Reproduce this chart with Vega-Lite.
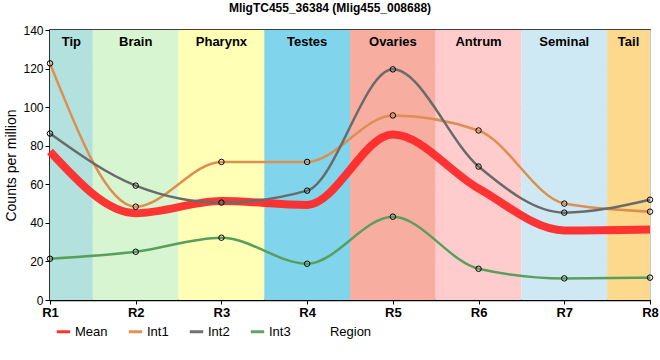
{
  "$schema": "https://vega.github.io/schema/vega-lite/v6.json",
  "width": 600,
  "height": 270,
  "autosize": {"type": "none"},
  "padding": {"left": 50, "top": 30, "right": 10, "bottom": 60},
  "background": "white",
  "title": {"text": "MligTC455_36384 (Mlig455_008688)", "fontSize": 12, "fontWeight": "bold", "font": "Liberation Sans", "offset": 9, "dx": -20, "color": "#000"},
  "config": {
    "view": {"stroke": "#000", "strokeWidth": 1.5},
    "font": "Liberation Sans"
  },
  "datasets": {
    "bands": [
      {"region": "Tip", "x0": 1, "x1": 1.5},
      {"region": "Brain", "x0": 1.5, "x1": 2.5},
      {"region": "Pharynx", "x0": 2.5, "x1": 3.5},
      {"region": "Testes", "x0": 3.5, "x1": 4.5},
      {"region": "Ovaries", "x0": 4.5, "x1": 5.5},
      {"region": "Antrum", "x0": 5.5, "x1": 6.5},
      {"region": "Seminal", "x0": 6.5, "x1": 7.5},
      {"region": "Tail", "x0": 7.5, "x1": 8}
    ],
    "series": [
      {"series": "Mean", "r": 1, "value": 77},
      {"series": "Mean", "r": 2, "value": 45},
      {"series": "Mean", "r": 3, "value": 51.3},
      {"series": "Mean", "r": 4, "value": 49.3},
      {"series": "Mean", "r": 5, "value": 85.8},
      {"series": "Mean", "r": 6, "value": 57.8},
      {"series": "Mean", "r": 7, "value": 36.1},
      {"series": "Mean", "r": 8, "value": 36.6},
      {"series": "Int1", "r": 1, "value": 122.7},
      {"series": "Int1", "r": 2, "value": 48.4},
      {"series": "Int1", "r": 3, "value": 71.6},
      {"series": "Int1", "r": 4, "value": 71.6},
      {"series": "Int1", "r": 5, "value": 95.7},
      {"series": "Int1", "r": 6, "value": 87.9},
      {"series": "Int1", "r": 7, "value": 50},
      {"series": "Int1", "r": 8, "value": 45.8},
      {"series": "Int2", "r": 1, "value": 86.3},
      {"series": "Int2", "r": 2, "value": 59.3},
      {"series": "Int2", "r": 3, "value": 50.5},
      {"series": "Int2", "r": 4, "value": 56.7},
      {"series": "Int2", "r": 5, "value": 119.6},
      {"series": "Int2", "r": 6, "value": 69.2},
      {"series": "Int2", "r": 7, "value": 45.3},
      {"series": "Int2", "r": 8, "value": 52},
      {"series": "Int3", "r": 1, "value": 21.4},
      {"series": "Int3", "r": 2, "value": 25},
      {"series": "Int3", "r": 3, "value": 32.3},
      {"series": "Int3", "r": 4, "value": 18.8},
      {"series": "Int3", "r": 5, "value": 43.2},
      {"series": "Int3", "r": 6, "value": 16.2},
      {"series": "Int3", "r": 7, "value": 11.2},
      {"series": "Int3", "r": 8, "value": 11.6}
    ]
  },
  "layer": [
    {
      "data": {"name": "bands"},
      "mark": {"type": "rect"},
      "encoding": {
        "x": {"field": "x0", "type": "quantitative", "scale": {"domain": [1, 8], "nice": false, "zero": false},
          "axis": {"values": [1,2,3,4,5,6,7,8], "labelExpr": "'R' + datum.value", "title": "Region", "grid": true, "gridColor": "#c8c8c8", "labelFontWeight": "bold", "labelFontSize": 13, "labelColor": "#000", "labelPadding": 2, "domainColor": "#000", "domainWidth": 1.5, "tickColor": "#000", "tickSize": 4, "titleFontWeight": "normal", "titleFontSize": 13, "titleColor": "#000", "titleY": 25, "labelFlush": false}},
        "x2": {"field": "x1"},
        "y": {"datum": 0, "type": "quantitative", "scale": {"domain": [0, 140], "nice": false},
          "axis": {"tickCount": 7, "title": "Counts per million", "grid": true, "gridColor": "#c8c8c8", "labelFontSize": 12, "labelColor": "#000", "domainColor": "#000", "domainWidth": 1.5, "tickColor": "#000", "tickSize": 5, "titleFontWeight": "normal", "titleFontSize": 14, "titleColor": "#000", "titlePadding": 4}},
        "y2": {"datum": 140},
        "fill": {"field": "region", "type": "nominal", "legend": null,
          "scale": {"domain": ["Tip","Brain","Pharynx","Testes","Ovaries","Antrum","Seminal","Tail"],
                    "range": ["#b3e1dd","#d7f5d0","#ffffb5","#80d5ec","#f7ad9f","#ffcccd","#cfe9f4","#fcd98c"]}}
      }
    },
    {
      "data": {"name": "bands"},
      "mark": {"type": "text", "fontWeight": "bold", "fontSize": 13, "baseline": "middle", "color": "#000"},
      "transform": [{"calculate": "(datum.x0 + datum.x1) / 2", "as": "xm"}],
      "encoding": {
        "x": {"field": "xm", "type": "quantitative"},
        "y": {"datum": 134, "type": "quantitative"},
        "text": {"field": "region"}
      }
    },
    {
      "data": {"name": "series"},
      "transform": [{"filter": "datum.series === 'Mean'"}],
      "mark": {"type": "line", "interpolate": "monotone", "strokeWidth": 8, "opacity": 0.95},
      "encoding": {
        "x": {"field": "r", "type": "quantitative"},
        "y": {"field": "value", "type": "quantitative"},
        "stroke": {"field": "series", "type": "nominal",
          "scale": {"domain": ["Mean","Int1","Int2","Int3"], "range": ["#ff2a2a","#dd8f4f","#6a6a6a","#5a9e5e"]},
          "legend": {"orient": "none", "legendX": 5, "legendY": 293, "direction": "horizontal", "title": null,
            "symbolType": "stroke", "symbolSize": 180, "symbolStrokeWidth": 3,
            "labelFontSize": 13, "columnPadding": 14, "symbolOffset": 0, "labelOffset": 3,
            "encode": {
              "labels": {"update": {"fill": {"scale": "stroke", "field": "value"}, "opacity": {"value": 0.85}}},
              "symbols": {"update": {"strokeWidth": {"signal": "datum.value === 'Mean' ? 7 : 3"}}}
            }}},
        "order": {"field": "r", "type": "quantitative"}
      }
    },
    {
      "data": {"name": "series"},
      "transform": [{"filter": "datum.series !== 'Mean'"}],
      "mark": {"type": "line", "interpolate": "monotone", "strokeWidth": 2.5},
      "encoding": {
        "x": {"field": "r", "type": "quantitative"},
        "y": {"field": "value", "type": "quantitative"},
        "stroke": {"field": "series", "type": "nominal"},
        "order": {"field": "r", "type": "quantitative"}
      }
    },
    {
      "data": {"name": "series"},
      "transform": [{"filter": "datum.series !== 'Mean'"}],
      "mark": {"type": "point", "filled": false, "stroke": "#000", "strokeWidth": 1, "size": 30, "opacity": 1},
      "encoding": {
        "x": {"field": "r", "type": "quantitative"},
        "y": {"field": "value", "type": "quantitative"}
      }
    }
  ]
}
